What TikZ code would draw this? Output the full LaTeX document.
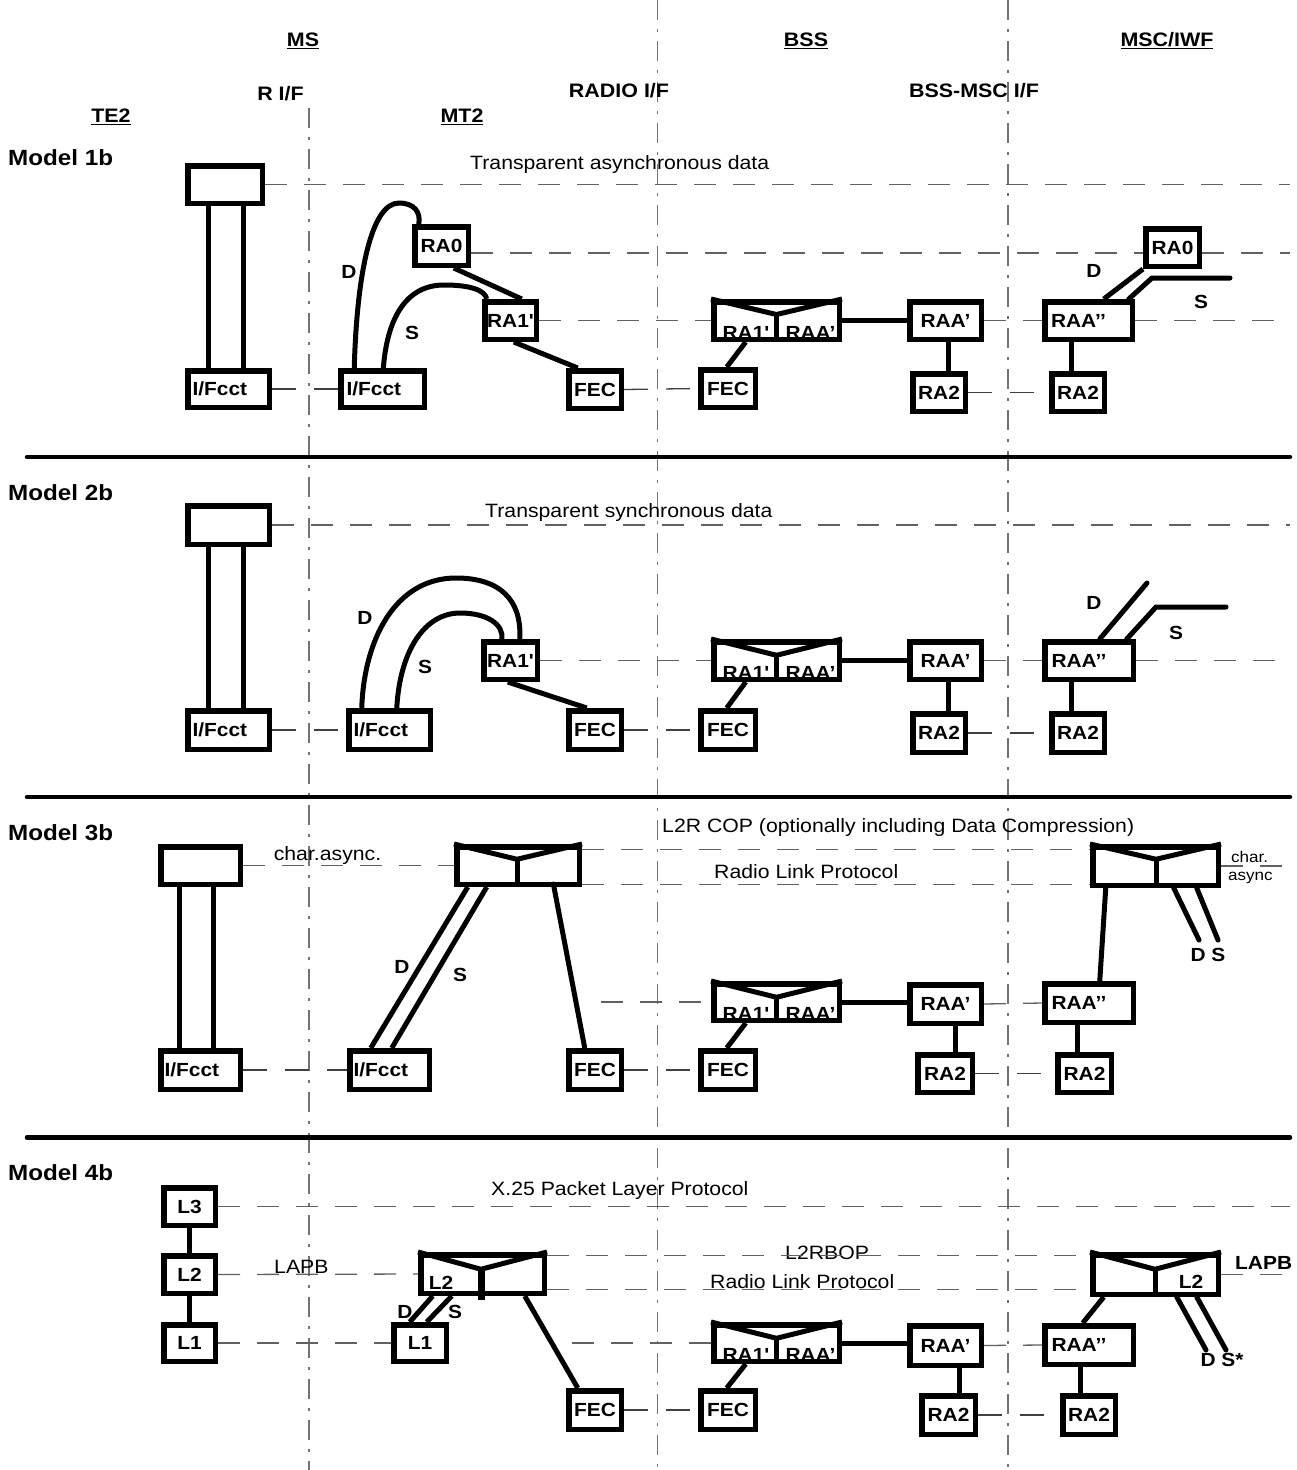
\documentclass[tikz,border=0pt]{standalone}
\usepackage{fontspec}
\newfontfamily\af{Liberation Sans}[FakeStretch=1.1]
\usetikzlibrary{calc}
\newcommand\bxo[7][]{\node[box,minimum width={(#5)-(#3)-5.5},minimum height={(#6)-(#4)-5.5},#1] (#2) at ({((#3)+(#5))/2},{((#4)+(#6))/2}) {#7};}
\newcommand\cbA[2]{%
  \draw[conn] (#1.north west) -- ($(#1.north)+(0,#2)$) coordinate (#1v) -- (#1.north east);
  \draw[conn] (#1v) -- (#1v |- #1.south);
  \node[lab] at ($(#1.south)+(-30.5,-9.5)$) {RA1'};
  \node[lab] at ($(#1.south)+(34,-9.5)$) {RAA’};}
\tikzset{
  box/.style={draw, line width=5.5pt, inner sep=0pt, font=\af\bfseries\fontsize{19}{21}\selectfont},
  conn/.style={line width=5pt},
  rconn/.style={line width=5pt, line cap=round},
  dl/.style={draw=black!62, line width=1.3pt, dash pattern=on 22pt off 17pt},
  sl/.style={draw=black!75, line width=1.3pt, dash pattern=on 24pt off 18pt},
  ddl/.style={draw=black!55, line width=1.2pt, dash pattern=on 20pt off 9pt on 3pt off 9pt},
  sep/.style={line width=4.5pt, line cap=round},
  lab/.style={font=\af\bfseries\fontsize{19}{21}\selectfont, inner sep=0pt},
  txt/.style={font=\af\fontsize{19.3}{21}\selectfont, inner sep=0pt},
  smalltxt/.style={font=\af\fontsize{15.5}{16}\selectfont, inner sep=0pt},
  hdr/.style={font=\af\bfseries\fontsize{19.5}{21}\selectfont, inner sep=0pt},
  mdl/.style={font=\af\bfseries\fontsize{22}{24}\selectfont, inner sep=0pt, anchor=west},
  ifc/.style={align=left, text width=72pt},
  rb/.style={align=left, text width=75pt},
}
\begin{document}
\begin{tikzpicture}[x=1pt,y=-1pt]
\fill[white] (0,0) rectangle (1297,1470);
\useasboundingbox (0,0) rectangle (1297,1470);
\coordinate (xR) at (1290,0);
% interface lines
\draw[ddl] (309,108) -- (309,1470);
\draw[ddl] (657.5,0) -- (657.5,1470);
\draw[ddl] (1008,0) -- (1008,1470);
% headers
\node[hdr] at (303,41) {\underline{MS}};
\node[hdr] at (806,41) {\underline{BSS}};
\node[hdr] at (1167,41) {\underline{MSC/IWF}};
\node[hdr] at (111,117) {\underline{TE2}};
\node[hdr] at (462,117) {\underline{MT2}};
\node[hdr] at (280.5,94) {R I/F};
\node[hdr] at (619,91) {RADIO I/F};
\node[hdr] at (974,91) {BSS-MSC I/F};
% separators
\draw[sep] (27,457) -- (1290,457);
\draw[sep] (27,797) -- (1290,797);
\draw[sep] (27,1137.5) -- (1290,1137.5);

% ================= Model 1b
\node[mdl] at (8,158) {Model 1b};
\bxo{te1}{185}{163}{265}{206}{}
\bxo[ifc]{if1a}{185}{368}{272}{410}{I/Fcct}
\bxo[ifc]{if1b}{338}{368}{427}{410}{I/Fcct}
\bxo{ra0a}{412}{224}{471}{268}{RA0}
\bxo{ra1a}{482}{299}{539}{342}{RA1'}
\bxo{fec1a}{566}{368}{624}{411}{FEC}
\bxo{cb1}{711}{299}{842}{342}{}
\cbA{cb1}{15.5}
\bxo{fec1b}{698}{367}{758}{410}{FEC}
\bxo{raa1}{907}{299}{984}{342}{RAA’}
\bxo{ra21}{910}{371}{968}{414}{RA2}
\bxo[rb]{raab1}{1042}{299}{1135}{342}{RAA’’}
\bxo{ra22}{1049}{371}{1107}{414}{RA2}
\bxo{ra0b}{1143}{226}{1202}{269}{RA0}
\draw[conn] ([xshift=23.35pt]te1.south west) -- ([xshift=23.35pt]te1.south west |- if1a.north);
\draw[conn] ([xshift=58.15pt]te1.south west) -- ([xshift=58.15pt]te1.south west |- if1a.north);
\draw[conn] ([xshift=41.75pt]ra0a.south west) -- ([xshift=39.75pt]ra1a.north west);
\draw[conn] ([xshift=31.75pt]ra1a.south west) -- ([xshift=11.75pt]fec1a.north west);
\draw[conn] ([xshift=16.25pt]if1b.north west) .. controls (357,270) and (372,203) .. (399,203) .. controls (414,203) and (421,212) .. ([xshift=6.75pt]ra0a.north west);
\draw[conn] ([xshift=45.35pt]if1b.north west) .. controls (387,320) and (405,285) .. (444,285) .. controls (470,285) and (485,290) .. ([xshift=4.75pt]ra1a.north west);
\node[lab] at (349,272) {D};
\node[lab] at (412,333) {S};
\draw[conn] (cb1.east) -- (raa1.west);
\draw[conn] ([xshift=34.75pt]cb1.south west) -- ([xshift=28.75pt]fec1b.north west);
\draw[conn] ([xshift=41.75pt]raa1.south west) -- ([xshift=41.75pt]raa1.south west |- ra21.north);
\draw[conn] ([xshift=29.75pt]raab1.south west) -- ([xshift=29.75pt]raab1.south west |- ra22.north);
\draw[conn] ([xshift=61.75pt]raab1.north west) -- (ra0b.south west);
\draw[rconn] ([xshift=86.75pt]raab1.north west) -- (1152,278) -- (1230,278) coordinate (s1end);
\node[lab] at (1094,271) {D};
\node[lab] at (1201,302) {S};
\node[txt,anchor=west] at (470,165) {Transparent asynchronous data};
\draw[dl] (te1.east) -- (te1.east -| xR);
\draw[dl] ($(ra0a.east)+(0,7)$) -- ($(ra0b.west)+(0,5.5)$);
\draw[dl] ($(ra0b.east)+(0,5.5)$) -- ($(ra0b.east -| xR)+(0,5.5)$);
\draw[dl] (ra1a.east) -- (cb1.west);
\draw[dl] (raa1.east) -- (raab1.west);
\draw[dl] (raab1.east) -- (raab1.east -| xR);
\draw[sl] (if1a.east) -- (if1b.west);
\draw[sl] (fec1a.east) -- (fec1b.west);
\draw[sl] (ra21.east) -- (ra22.west);

% ================= Model 2b
\node[mdl] at (8,493) {Model 2b};
\bxo{te2}{185}{503}{272}{547}{}
\bxo[ifc]{if2a}{185}{708}{272}{752}{I/Fcct}
\bxo[ifc]{if2b}{346}{708}{433}{752}{I/Fcct}
\bxo{ra1b}{481}{639}{540}{682}{RA1'}
\bxo{fec2a}{566}{708}{624}{752}{FEC}
\bxo{cb2}{711}{639}{842}{682}{}
\cbA{cb2}{16.25}
\bxo{fec2b}{698}{708}{758}{752}{FEC}
\bxo{raa2}{907}{639}{984}{682}{RAA’}
\bxo{ra23}{910}{711}{968}{755}{RA2}
\bxo[rb]{raab2}{1042}{639}{1136}{682}{RAA’’}
\bxo{ra24}{1049}{711}{1107}{755}{RA2}
\draw[conn] ([xshift=23.35pt]te2.south west) -- ([xshift=23.35pt]te2.south west |- if2a.north);
\draw[conn] ([xshift=58.15pt]te2.south west) -- ([xshift=58.15pt]te2.south west |- if2a.north);
\draw[conn] ([xshift=15.75pt]if2b.north west) .. controls (364,640) and (395,578) .. (456,578) .. controls (500,578) and (522,600) .. ([xshift=38.75pt]ra1b.north west);
\draw[conn] ([xshift=50.75pt]if2b.north west) .. controls (400,650) and (425,613) .. (460,613) .. controls (488,613) and (504,625) .. ([xshift=20.75pt]ra1b.north west);
\node[lab] at (365,618) {D};
\node[lab] at (425,667) {S};
\draw[conn] ([xshift=26.75pt]ra1b.south west) -- ([xshift=20.75pt]fec2a.north west);
\draw[conn] (cb2.east) -- (raa2.west);
\draw[conn] ([xshift=34.75pt]cb2.south west) -- ([xshift=28.75pt]fec2b.north west);
\draw[conn] ([xshift=41.75pt]raa2.south west) -- ([xshift=41.75pt]raa2.south west |- ra23.north);
\draw[conn] ([xshift=29.75pt]raab2.south west) -- ([xshift=29.75pt]raab2.south west |- ra24.north);
\draw[rconn] ([xshift=57.75pt]raab2.north west) -- (1147,583) coordinate (d2end);
\draw[rconn] ([xshift=84.75pt]raab2.north west) -- (1156,607) -- (1226,607) coordinate (s2end);
\node[lab] at (1094,603) {D};
\node[lab] at (1176,633) {S};
\node[txt,anchor=west] at (485,513) {Transparent synchronous data};
\draw[dl] (te2.east) -- (te2.east -| xR);
\draw[dl] (ra1b.east) -- (cb2.west);
\draw[dl] (raa2.east) -- (raab2.west);
\draw[dl] (raab2.east) -- (raab2.east -| xR);
\draw[sl] (if2a.east) -- (if2b.west);
\draw[sl] (fec2a.east) -- (fec2b.west);
\draw[sl] (ra23.east) -- (ra24.west);

% ================= Model 3b
\node[mdl] at (8,833) {Model 3b};
\bxo{te3}{158}{844}{243}{887}{}
\bxo[ifc]{if3a}{158}{1048}{243}{1092}{I/Fcct}
\bxo[ifc]{if3b}{347}{1048}{432}{1092}{I/Fcct}
\bxo{cl3}{454}{844}{582}{887}{}
\draw[conn] (cl3.north west) -- ($(cl3.north)+(-1,15.25)$) coordinate (cl3v) -- (cl3.north east);
\draw[conn] (cl3v) -- (cl3v |- cl3.south);
\draw[conn] ($(cl3v)+(0,5)$) -- ($(cl3v)+(0,5)$ -| cl3.east);
\bxo{fec3a}{566}{1048}{624}{1092}{FEC}
\bxo{cm3}{1090}{844}{1221}{888}{}
\draw[conn] (cm3.north west) -- ($(cm3.north)+(0.5,15.25)$) coordinate (cm3v) -- (cm3.north east);
\draw[conn] (cm3v) -- (cm3v |- cm3.south);
\draw[conn] ($(cm3v)+(0,4)$) -- ($(cm3v)+(0,4)$ -| cm3.west);
\bxo{cb3}{711}{981}{842}{1023}{}
\cbA{cb3}{16.25}
\bxo{fec3b}{698}{1048}{758}{1092}{FEC}
\bxo{raa3}{907}{982}{984}{1026}{RAA’}
\bxo{ra25}{915}{1052}{975}{1095}{RA2}
\bxo[rb]{raab3}{1042}{981}{1136}{1025}{RAA’’}
\bxo{ra26}{1055}{1052}{1114}{1095}{RA2}
\draw[conn] ([xshift=21.75pt]te3.south west) -- ([xshift=21.75pt]te3.south west |- if3a.north);
\draw[conn] ([xshift=55.75pt]te3.south west) -- ([xshift=55.75pt]te3.south west |- if3a.north);
\draw[conn] ([xshift=13.75pt]cl3.south west) -- ([xshift=23.75pt]if3b.north west);
\draw[conn] ([xshift=32.75pt]cl3.south west) -- ([xshift=44.75pt]if3b.north west);
\draw[rconn] ([xshift=99.4pt,yshift=3pt]cl3.south west) -- ([xshift=18.75pt]fec3a.north west);
\node[lab] at (402,967) {D};
\node[lab] at (460,975) {S};
\draw[conn] ([xshift=15.75pt]cm3.south west) -- ([xshift=57.75pt]raab3.north west);
\draw[rconn] ([xshift=83.75pt]cm3.south west) -- (1199,940) coordinate (d3end);
\draw[rconn] ([xshift=106.75pt]cm3.south west) -- (1218,940) coordinate (s3end);
\node[lab] at (1208,955) {D S};
\draw[conn] (cb3.east) -- (cb3.east -| raa3.west);
\draw[conn] ([xshift=34.75pt]cb3.south west) -- ([xshift=28.75pt]fec3b.north west);
\draw[conn] ([xshift=48.75pt]raa3.south west) -- ([xshift=48.75pt]raa3.south west |- ra25.north);
\draw[conn] ([xshift=35.75pt]raab3.south west) -- ([xshift=35.75pt]raab3.south west |- ra26.north);
\node[txt] at (327.5,855) {char.async.};
\node[txt,anchor=west] at (662,827) {L2R COP (optionally including Data Compression)};
\node[txt,anchor=west] at (714,872) {Radio Link Protocol};
\node[smalltxt,anchor=base west] at (1231,862.5) {char.};
\node[smalltxt,anchor=base west] at (1228,880) {async};
\draw[dl] (te3.east) -- (cl3.west);
\draw[dl] ($(cl3.north east)+(0,5.75)$) -- ($(cm3.north west)+(0,5.75)$);
\draw[dl] ($(cl3.south east)+(0,-2.75)$) -- ($(cm3.south west)+(0,-3.75)$);
\draw[dl] (cm3.east) -- (cm3.east -| xR);
\coordinate (c3a) at (601,1002);
\draw[dl] (c3a) -- (cb3.west);
\draw[dl] (raa3.east) -- (raab3.west);
\draw[sl] (if3a.east) -- (if3b.west);
\draw[sl] (fec3a.east) -- (fec3b.west);
\draw[sl] (ra25.east) -- (ra26.west);

% ================= Model 4b
\node[mdl] at (8,1173) {Model 4b};
\bxo{l3}{161}{1185}{218}{1228}{L3}
\bxo{l2}{161}{1253}{218}{1296}{L2}
\bxo{l1}{161}{1322}{218}{1364}{L1}
\bxo{l1b}{391}{1322}{449}{1364}{L1}
\bxo{cl4}{418}{1252}{547}{1296}{}
\draw[conn] (cl4.north west) -- ($(cl4.north)+(-1.5,17.25)$) coordinate (cl4v) -- (cl4.north east);
\draw[line width=7pt] (cl4v) -- ($(cl4v |- cl4.south)+(0,4)$);
\draw[conn] ($(cl4v)+(0,7)$) -- ($(cl4v)+(0,7)$ -| cl4.east);
\node[lab] at (441,1283) {L2};
\bxo{fec4a}{566}{1388}{624}{1432}{FEC}
\bxo{cm4}{1090}{1252}{1221}{1297}{}
\draw[conn] (cm4.north west) -- ($(cm4.north)+(-0.5,17.25)$) coordinate (cm4v) -- (cm4.north east);
\draw[conn] (cm4v) -- (cm4v |- cm4.south);
\draw[conn] ($(cm4v)+(0,1.5)$) -- ($(cm4v)+(0,1.5)$ -| cm4.west);
\node[lab] at (1191,1282) {L2};
\bxo{cb4}{711}{1322}{842}{1364}{}
\cbA{cb4}{16.25}
\bxo{fec4b}{698}{1388}{758}{1432}{FEC}
\bxo{raa4}{907}{1323}{984}{1368}{RAA’}
\bxo{ra27}{919}{1393}{978}{1437}{RA2}
\bxo[rb]{raab4}{1042}{1323}{1136}{1367}{RAA’’}
\bxo{ra28}{1060}{1393}{1118}{1437}{RA2}
\draw[conn] (l3.south) -- (l2.north);
\draw[conn] (l2.south) -- (l1.north);
\draw[conn] ([xshift=14.75pt]cl4.south west) -- ([xshift=18.75pt]l1b.north west);
\draw[conn] ([xshift=33.75pt]cl4.south west) -- ([xshift=35.75pt]l1b.north west);
\node[lab] at (405,1312) {D};
\node[lab] at (455,1312) {S};
\draw[conn] ([xshift=106.75pt]cl4.south west) -- ([xshift=11.75pt]fec4a.north west);
\draw[conn] ([xshift=13.75pt]cm4.south west) -- ([xshift=40.75pt]raab4.north west);
\draw[rconn] ([xshift=86.75pt]cm4.south west) -- (1206,1350) coordinate (d4end);
\draw[rconn] ([xshift=106.75pt]cm4.south west) -- (1226,1350) coordinate (s4end);
\node[lab] at (1222,1360) {D S*};
\draw[conn] (cb4.east) -- (cb4.east -| raa4.west);
\draw[conn] ([xshift=34.75pt]cb4.south west) -- ([xshift=28.75pt]fec4b.north west);
\draw[conn] ([xshift=52.75pt]raa4.south west) -- ([xshift=52.75pt]raa4.south west |- ra27.north);
\draw[conn] ([xshift=38.75pt]raab4.south west) -- ([xshift=38.75pt]raab4.south west |- ra28.north);
\node[txt,anchor=west] at (491,1190) {X.25 Packet Layer Protocol};
\node[txt,anchor=west] at (274,1267) {LAPB};
\node[txt,anchor=west] at (785,1253) {L2RBOP};
\node[txt,anchor=west] at (710,1282) {Radio Link Protocol};
\node[lab,anchor=west] at (1235,1263) {LAPB};
\draw[dl] (l3.east) -- (l3.east -| xR);
\draw[dl] (l2.east) -- (cl4.west);
\draw[dl] ($(cl4.north east)+(0,3.75)$) -- ($(cm4.north west)+(0,3.75)$);
\draw[dl] ($(cl4.south east)+(0,-6.75)$) -- ($(cm4.south west)+(0,-7.75)$);
\draw[dl] (cm4.east) -- (cm4.east -| xR);
\draw[dl] (l1.east) -- (l1b.west);
\coordinate (c4a) at (572,1343);
\draw[dl] (c4a) -- (cb4.west);
\draw[dl] (raa4.east) -- (raab4.west);
\draw[sl] (fec4a.east) -- (fec4b.west);
\draw[sl] (ra27.east) -- (ra28.west);
\end{tikzpicture}
\end{document}
